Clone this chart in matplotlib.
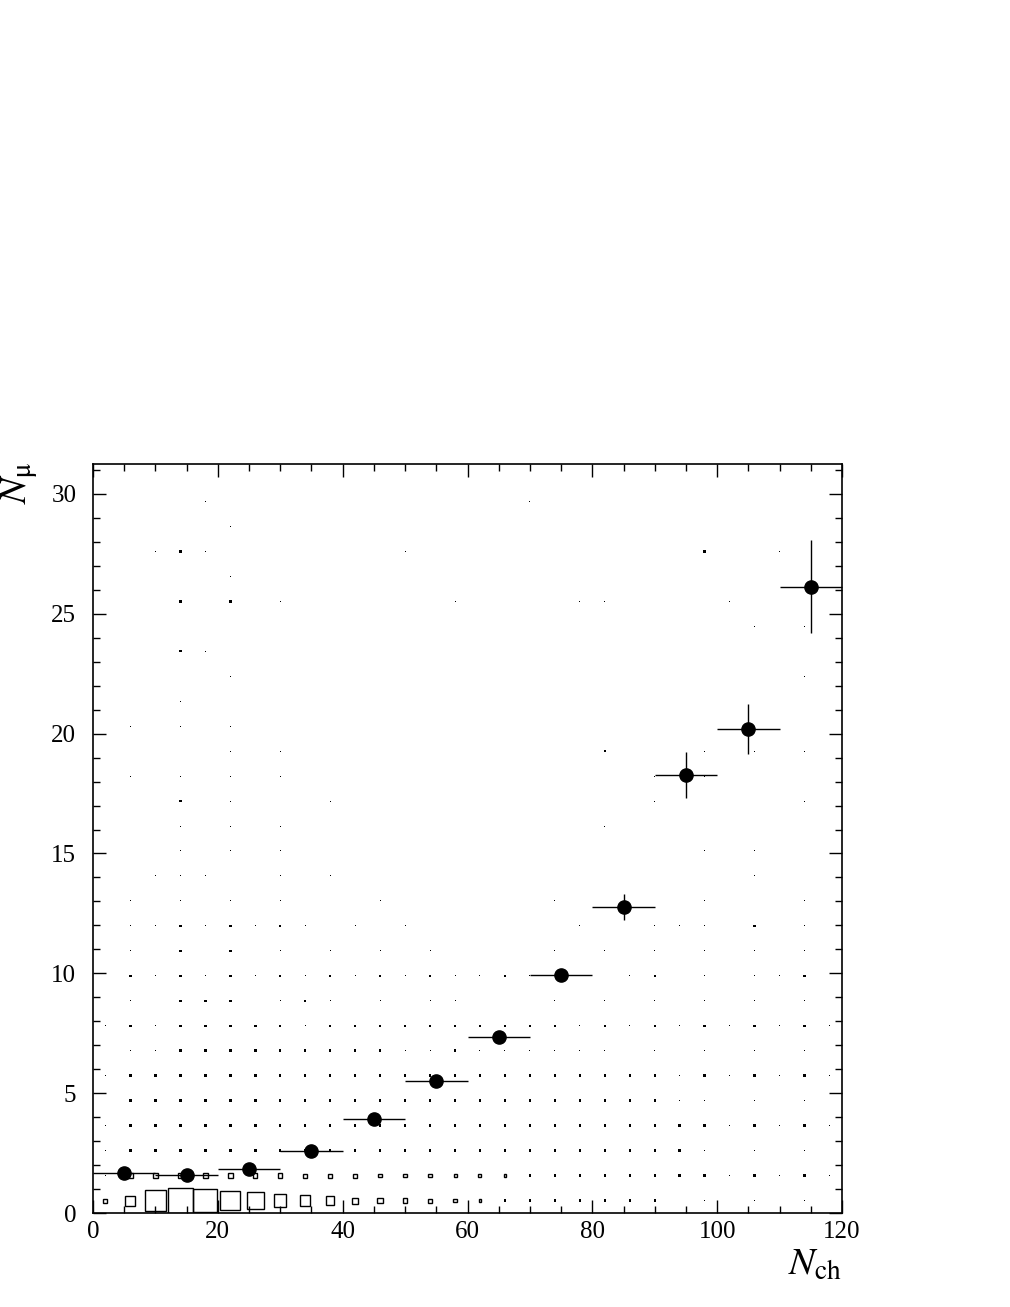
import numpy as np
import matplotlib
matplotlib.use('Agg')
import matplotlib.pyplot as plt
from matplotlib.patches import Rectangle
from matplotlib.ticker import MultipleLocator

# ==========================================
# 1. Plotting configuration (ROOT-like look)
# ==========================================
plt.rcParams.update({
    'font.family': 'Liberation Serif',
    'mathtext.fontset': 'stix',
    'axes.linewidth': 1.2,
})

# ==========================================
# 2. Data
# ==========================================
# binning of the 2D histogram (N_ch vs N_mu)
x_edges = np.linspace(0, 120, 31)
y_edges = np.linspace(0, 31.25, 31)

# bin contents, rows = N_mu bins (bottom -> top), columns = N_ch bins
counts = [
    [16, 40, 86, 100, 95, 79, 66, 50, 41, 33, 24, 21, 17, 16, 13, 11, 10, 10, 10, 10, 10, 10, 10, 0, 4, 0, 4, 0, 4, 0],
    [6, 18, 19, 20, 21, 19, 17, 17, 16, 16, 16, 14, 14, 13, 12, 12, 11, 10, 10, 10, 10, 10, 10, 10, 10, 4, 10, 4, 10, 4],
    [5, 10, 10, 10, 10, 10, 10, 10, 10, 10, 10, 10, 10, 10, 10, 10, 10, 10, 10, 10, 10, 10, 10, 10, 4, 0, 4, 0, 4, 0],
    [4, 10, 10, 10, 10, 10, 10, 10, 10, 10, 10, 10, 10, 10, 10, 10, 10, 10, 10, 10, 10, 10, 10, 10, 10, 4, 10, 4, 10, 4],
    [0, 10, 10, 10, 10, 10, 10, 10, 10, 10, 10, 10, 10, 10, 10, 10, 10, 10, 10, 10, 10, 10, 10, 4, 4, 0, 4, 0, 4, 0],
    [4, 10, 10, 10, 10, 10, 10, 10, 10, 10, 10, 10, 10, 10, 10, 10, 10, 10, 10, 10, 10, 10, 10, 4, 10, 4, 10, 4, 10, 4],
    [0, 4, 4, 10, 10, 10, 10, 10, 10, 10, 10, 10, 4, 4, 10, 4, 4, 4, 4, 4, 4, 0, 4, 0, 4, 0, 4, 0, 4, 0],
    [4, 10, 4, 10, 10, 10, 10, 10, 4, 10, 10, 10, 10, 10, 10, 10, 10, 10, 10, 4, 10, 4, 10, 4, 10, 4, 10, 4, 10, 4],
    [0, 4, 0, 10, 10, 10, 0, 4, 10, 4, 0, 4, 0, 4, 4, 0, 0, 0, 4, 0, 4, 0, 4, 0, 4, 0, 4, 0, 4, 0],
    [0, 10, 4, 10, 4, 10, 4, 10, 4, 10, 4, 10, 4, 10, 4, 4, 10, 4, 0, 0, 0, 4, 10, 0, 4, 0, 4, 4, 10, 0],
    [0, 4, 0, 10, 0, 10, 0, 4, 0, 4, 0, 4, 0, 4, 0, 0, 0, 0, 4, 0, 4, 0, 4, 0, 4, 0, 4, 0, 4, 0],
    [0, 4, 4, 10, 4, 10, 4, 10, 4, 0, 4, 0, 4, 0, 0, 0, 0, 0, 0, 4, 0, 0, 4, 4, 4, 0, 10, 0, 4, 0],
    [0, 4, 0, 4, 0, 4, 0, 4, 0, 0, 0, 4, 0, 0, 0, 0, 0, 0, 4, 0, 0, 0, 0, 0, 4, 0, 0, 0, 4, 0],
    [0, 0, 4, 4, 4, 0, 0, 4, 0, 4, 0, 0, 0, 0, 0, 0, 0, 0, 0, 0, 0, 0, 0, 0, 0, 0, 4, 0, 0, 0],
    [0, 0, 0, 4, 0, 4, 0, 4, 0, 0, 0, 0, 0, 0, 0, 0, 0, 0, 0, 0, 0, 0, 0, 0, 4, 0, 4, 0, 0, 0],
    [0, 0, 0, 4, 0, 4, 0, 4, 0, 0, 0, 0, 0, 0, 0, 0, 0, 0, 0, 0, 4, 0, 0, 0, 0, 0, 0, 0, 0, 0],
    [0, 0, 0, 10, 0, 4, 0, 0, 0, 4, 0, 0, 0, 0, 0, 0, 0, 0, 0, 0, 0, 0, 4, 0, 0, 0, 0, 0, 4, 0],
    [0, 4, 0, 4, 0, 4, 0, 4, 0, 0, 0, 0, 0, 0, 0, 0, 0, 0, 0, 0, 0, 0, 4, 0, 4, 0, 0, 0, 0, 0],
    [0, 0, 0, 0, 0, 4, 0, 4, 0, 0, 0, 0, 0, 0, 0, 0, 0, 0, 0, 0, 10, 0, 0, 0, 4, 0, 4, 0, 4, 0],
    [0, 4, 0, 4, 0, 4, 0, 0, 0, 0, 0, 0, 0, 0, 0, 0, 0, 0, 0, 0, 0, 0, 0, 0, 0, 0, 0, 0, 0, 0],
    [0, 0, 0, 4, 0, 0, 0, 0, 0, 0, 0, 0, 0, 0, 0, 0, 0, 0, 0, 0, 0, 0, 0, 0, 0, 0, 0, 0, 0, 0],
    [0, 0, 0, 0, 0, 4, 0, 0, 0, 0, 0, 0, 0, 0, 0, 0, 0, 0, 0, 0, 0, 0, 0, 0, 0, 0, 0, 0, 4, 0],
    [0, 0, 0, 10, 4, 0, 0, 0, 0, 0, 0, 0, 0, 0, 0, 0, 0, 0, 0, 0, 0, 0, 0, 0, 0, 0, 0, 0, 0, 0],
    [0, 0, 0, 0, 0, 0, 0, 0, 0, 0, 0, 0, 0, 0, 0, 0, 0, 0, 0, 0, 0, 0, 0, 0, 0, 0, 4, 0, 4, 0],
    [0, 0, 0, 10, 0, 10, 0, 4, 0, 0, 0, 0, 0, 0, 4, 0, 0, 0, 0, 4, 4, 0, 0, 0, 0, 4, 0, 0, 0, 0],
    [0, 0, 0, 0, 0, 4, 0, 0, 0, 0, 0, 0, 0, 0, 0, 0, 0, 0, 0, 0, 0, 0, 0, 0, 0, 0, 0, 0, 0, 0],
    [0, 0, 4, 10, 4, 0, 0, 0, 0, 0, 0, 0, 4, 0, 0, 0, 0, 0, 0, 0, 0, 0, 0, 0, 10, 0, 0, 4, 0, 0],
    [0, 0, 0, 0, 0, 4, 0, 0, 0, 0, 0, 0, 0, 0, 0, 0, 0, 0, 0, 0, 0, 0, 0, 0, 0, 0, 0, 0, 0, 0],
    [0, 0, 0, 0, 4, 0, 0, 0, 0, 0, 0, 0, 0, 0, 0, 0, 0, 4, 0, 0, 0, 0, 0, 0, 0, 0, 0, 0, 0, 0],
    [0, 0, 0, 0, 0, 0, 0, 0, 0, 0, 0, 0, 0, 0, 0, 0, 0, 0, 0, 0, 0, 0, 0, 0, 0, 0, 0, 0, 0, 0],
]

# profile: mean N_mu per N_ch bin
prof_x = [5, 15, 25, 35, 45, 55, 65, 75, 85, 95, 105, 115]
prof_y = [1.68, 1.59, 1.84, 2.60, 3.92, 5.52, 7.36, 9.93, 12.78, 18.29, 20.18, 26.13]
prof_yerr = [0.04, 0.04, 0.05, 0.06, 0.08, 0.12, 0.18, 0.25, 0.54, 0.96, 1.05, 1.95]
prof_xerr = [5] * len(prof_x)

# ==========================================
# 3. Figure
# ==========================================
fig = plt.figure(figsize=(10.10, 13.07), dpi=100)
ax = fig.add_axes([93 / 1010, 94 / 1307, 749 / 1010, 749 / 1307])

# box-style 2D histogram: box side proportional to bin content
counts = np.array(counts, dtype=float)
cmax = counts.max()
xc = 0.5 * (x_edges[:-1] + x_edges[1:])
yc = 0.5 * (y_edges[:-1] + y_edges[1:])
dx = x_edges[1] - x_edges[0]
dy = y_edges[1] - y_edges[0]

for j in range(counts.shape[0]):
    for i in range(counts.shape[1]):
        c = counts[j, i]
        if c <= 0:
            continue
        w = c / cmax * dx
        h = c / cmax * dy
        if c < 11:
            # tiny boxes end up as dots
            box = Rectangle((xc[i] - w / 2, yc[j] - h / 2), w, h,
                            facecolor='black', edgecolor='none', lw=0)
        else:
            box = Rectangle((xc[i] - w / 2, yc[j] - h / 2), w, h,
                            facecolor='none', edgecolor='black', lw=1.0)
        ax.add_patch(box)

# profile on top
ax.errorbar(prof_x, prof_y, xerr=prof_xerr, yerr=prof_yerr, fmt='o',
            color='black', ms=9.5, elinewidth=1.0, capsize=0, zorder=5,
            clip_on=False)

# ==========================================
# 4. Axes formatting
# ==========================================
ax.set_xlim(0, 120)
ax.set_ylim(0, 31.25)
ax.xaxis.set_major_locator(MultipleLocator(20))
ax.xaxis.set_minor_locator(MultipleLocator(5))
ax.yaxis.set_major_locator(MultipleLocator(5))
ax.yaxis.set_minor_locator(MultipleLocator(1))
ax.tick_params(which='both', direction='in', top=True, right=True, width=1.0,
               labelsize=18)
ax.tick_params(which='major', length=9.5)
ax.tick_params(which='minor', length=5)
ax.tick_params(axis='x', pad=6)
ax.tick_params(axis='y', pad=12)

ax.text(1.0, -0.083, r'$N_{\mathrm{ch}}$', transform=ax.transAxes,
        ha='right', va='baseline', fontsize=28)
ax.text(-0.088, 1.003, r'$N_{\mathrm{\mu}}$', transform=ax.transAxes,
        ha='right', va='baseline', rotation=90, rotation_mode='anchor',
        fontsize=28)

fig.savefig('out.png', dpi=100)
